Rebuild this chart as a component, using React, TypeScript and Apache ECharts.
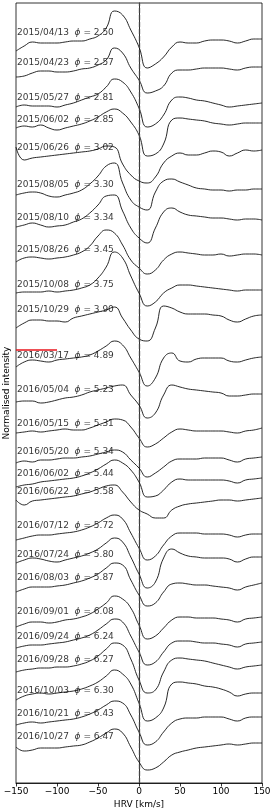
import React, { useEffect, useRef } from "react";
import * as echarts from "echarts";

// Heliocentric radial velocity grid (km/s)
const velocity = [-150, -140, -130, -120, -110, -100, -90, -80, -70, -60, -50, -40, -30, -20, -10, 0, 10, 20, 30, 40, 50, 60, 70, 80, 90, 100, 110, 120, 130, 140, 150];

const dates = [
  "2015/04/13", "2015/04/23", "2015/05/27", "2015/06/02", "2015/06/26", "2015/08/05", "2015/08/10", "2015/08/26",
  "2015/10/08", "2015/10/29", "2016/03/17", "2016/05/04", "2016/05/15", "2016/05/20", "2016/06/02", "2016/06/22",
  "2016/07/12", "2016/07/24", "2016/08/03", "2016/09/01", "2016/09/24", "2016/09/28", "2016/10/03", "2016/10/21", "2016/10/27",
];
const phases = ["2.50", "2.57", "2.81", "2.85", "3.02", "3.30", "3.34", "3.45", "3.75", "3.90", "4.89", "5.23", "5.31", "5.34", "5.44", "5.58", "5.72", "5.80", "5.87", "6.08", "6.24", "6.27", "6.30", "6.43", "6.47"];

// vertical shift applied to each normalised profile
const offsets = [6.43, 6.15, 5.83, 5.61, 5.31, 4.95, 4.65, 4.29, 3.95, 3.68, 3.25, 2.89, 2.53, 2.24, 2.03, 1.83, 1.5, 1.25, 0.98, 0.65, 0.4, 0.19, -0.07, -0.35, -0.62];
// level of each text annotation (same axis units)
const labelLevels = [7.51, 7.21, 6.86, 6.64, 6.36, 5.99, 5.66, 5.34, 4.99, 4.74, 4.28, 3.94, 3.6, 3.32, 3.1, 2.92, 2.58, 2.29, 2.06, 1.72, 1.47, 1.24, 0.93, 0.7, 0.47];

// normalised intensity profiles
const s01 = [0.89, 0.94, 0.98, 0.97, 0.97, 0.97, 0.98, 0.99, 0.99, 1.01, 1.04, 1.12, 1.29, 1.25, 1.10, 0.93, 0.72, 0.76, 0.83, 0.93, 0.98, 0.97, 0.97, 0.99, 1.00, 1.00, 0.99, 0.97, 0.99, 1.01, 1.01];
const s02 = [0.91, 0.92, 0.95, 0.97, 0.97, 0.96, 0.96, 0.97, 0.99, 1.00, 1.03, 1.08, 1.20, 1.15, 1.00, 0.88, 0.75, 0.77, 0.82, 0.95, 0.98, 0.98, 0.99, 1.00, 1.00, 1.00, 0.99, 0.98, 1.00, 1.01, 1.01];
const s03 = [0.93, 0.95, 0.94, 0.94, 0.94, 0.93, 0.95, 0.97, 1.00, 1.03, 1.06, 1.13, 1.21, 1.18, 1.08, 0.92, 0.73, 0.76, 0.85, 1.00, 1.03, 1.02, 1.00, 0.99, 0.97, 0.95, 0.93, 0.94, 0.95, 0.96, 0.97];
const s04 = [0.94, 0.96, 0.95, 0.97, 0.94, 0.92, 0.94, 0.96, 0.98, 1.01, 1.05, 1.10, 1.13, 1.09, 1.00, 0.87, 0.66, 0.68, 0.78, 1.02, 1.04, 1.03, 1.02, 1.01, 0.99, 0.98, 0.97, 0.98, 0.99, 0.99, 0.99];
const s05 = [1.05, 0.92, 0.94, 0.95, 0.96, 0.97, 0.98, 0.99, 1.00, 1.01, 1.03, 1.06, 1.05, 0.88, 0.77, 0.71, 0.69, 0.75, 0.89, 0.96, 0.99, 0.97, 0.97, 0.99, 1.01, 1.00, 0.96, 0.99, 1.02, 1.01, 1.02];
const s06 = [0.93, 0.95, 0.96, 0.95, 0.92, 0.91, 0.93, 0.95, 0.98, 1.04, 1.12, 1.22, 1.25, 1.05, 0.88, 0.81, 0.78, 0.96, 1.07, 1.09, 1.06, 1.03, 1.00, 0.99, 0.98, 0.98, 0.97, 0.98, 0.98, 0.99, 0.99];
const s07 = [0.91, 0.93, 0.95, 0.93, 0.91, 0.92, 0.93, 0.96, 0.99, 1.05, 1.13, 1.22, 1.23, 1.07, 0.90, 0.80, 0.75, 0.90, 1.06, 1.10, 1.06, 1.03, 1.02, 1.01, 1.00, 1.00, 0.99, 0.98, 0.99, 0.99, 0.98];
const s08 = [0.92, 0.96, 0.97, 0.96, 0.95, 0.96, 0.97, 0.99, 1.02, 1.08, 1.18, 1.24, 1.21, 1.09, 0.94, 0.86, 0.80, 0.84, 0.94, 1.00, 1.02, 1.01, 1.00, 0.99, 0.99, 1.00, 0.98, 0.99, 1.00, 1.00, 0.99];
const s09 = [0.95, 0.96, 0.96, 0.96, 0.97, 0.96, 0.97, 0.98, 1.00, 1.03, 1.10, 1.21, 1.36, 1.30, 1.12, 0.95, 0.82, 0.86, 0.95, 1.00, 1.03, 1.03, 1.02, 1.01, 1.00, 0.99, 0.98, 0.97, 0.98, 0.98, 0.98];
const s10 = [0.87, 0.92, 0.95, 0.95, 0.94, 0.94, 0.93, 0.97, 0.99, 1.01, 1.03, 1.05, 1.08, 0.97, 0.85, 0.76, 0.74, 0.87, 1.09, 1.07, 1.03, 1.01, 1.01, 1.01, 1.00, 0.99, 0.95, 0.93, 0.96, 0.99, 1.00];
const s11 = [0.91, 0.96, 0.98, 0.97, 0.96, 0.98, 0.99, 1.00, 1.01, 1.03, 1.07, 1.12, 1.17, 1.13, 1.00, 0.86, 0.72, 0.80, 1.00, 1.05, 0.97, 0.96, 0.99, 1.00, 1.00, 1.00, 0.97, 0.96, 0.98, 1.00, 1.01];
const s12 = [0.92, 0.93, 0.93, 0.91, 0.92, 0.94, 0.96, 0.97, 0.99, 1.02, 1.04, 1.06, 1.08, 1.09, 0.99, 0.89, 0.76, 0.81, 0.99, 1.09, 1.07, 1.05, 1.04, 1.03, 1.02, 1.01, 0.98, 0.98, 0.99, 1.00, 1.00];
const s13 = [0.97, 0.98, 0.99, 0.98, 0.99, 1.00, 1.01, 1.00, 1.00, 1.02, 1.05, 1.08, 1.11, 1.10, 1.03, 0.92, 0.83, 0.86, 0.92, 0.98, 1.01, 1.00, 0.99, 0.99, 0.99, 0.99, 0.98, 0.97, 0.99, 1.00, 1.02];
const s14 = [0.96, 0.98, 0.97, 0.99, 0.99, 1.00, 1.01, 1.01, 1.02, 1.03, 1.05, 1.07, 1.09, 1.07, 0.99, 0.91, 0.82, 0.86, 0.92, 0.98, 1.00, 1.00, 1.00, 1.01, 1.01, 1.01, 0.99, 0.97, 1.00, 1.01, 1.02];
const s15 = [0.93, 0.95, 0.96, 0.98, 0.99, 1.00, 1.01, 1.02, 1.04, 1.07, 1.11, 1.16, 1.20, 1.17, 1.10, 0.98, 0.83, 0.84, 0.90, 0.98, 1.01, 1.00, 1.00, 1.00, 1.00, 1.00, 0.99, 0.97, 1.00, 1.01, 1.02];
const s16 = [1.00, 0.95, 0.99, 1.00, 1.01, 1.02, 1.03, 1.04, 1.06, 1.08, 1.11, 1.14, 1.15, 1.08, 0.98, 0.90, 0.86, 0.82, 0.82, 0.90, 0.94, 0.96, 0.97, 0.98, 0.99, 1.00, 1.00, 0.99, 1.00, 1.01, 1.02];
const s17 = [0.93, 0.95, 0.97, 0.98, 0.98, 0.99, 1.00, 1.01, 1.03, 1.06, 1.10, 1.15, 1.18, 1.14, 1.00, 0.85, 0.73, 0.77, 0.88, 0.97, 1.00, 1.00, 1.00, 0.99, 0.99, 0.99, 0.98, 0.96, 0.98, 0.99, 0.99];
const s18 = [0.95, 0.98, 1.00, 0.99, 0.97, 0.96, 0.98, 1.00, 1.02, 1.05, 1.09, 1.15, 1.20, 1.16, 1.01, 0.84, 0.70, 0.76, 1.00, 1.09, 1.05, 1.02, 1.01, 1.00, 1.00, 1.00, 0.99, 0.96, 0.99, 1.01, 1.01];
const s19 = [0.93, 0.96, 0.98, 0.98, 0.98, 0.99, 1.00, 1.02, 1.04, 1.07, 1.11, 1.17, 1.22, 1.20, 1.05, 0.90, 0.79, 0.82, 0.93, 1.01, 1.02, 1.01, 1.00, 1.00, 0.99, 0.98, 0.97, 0.95, 0.98, 1.00, 1.02];
const s20 = [0.91, 0.94, 0.96, 0.96, 0.95, 0.96, 0.98, 0.99, 1.01, 1.04, 1.09, 1.15, 1.22, 1.19, 1.10, 0.93, 0.79, 0.82, 0.90, 0.98, 1.01, 1.01, 1.00, 1.00, 1.00, 0.99, 0.98, 0.96, 0.99, 1.00, 1.01];
const s21 = [0.95, 0.97, 0.98, 0.98, 0.99, 1.00, 1.01, 1.03, 1.05, 1.08, 1.13, 1.19, 1.24, 1.21, 1.07, 0.91, 0.78, 0.81, 0.91, 1.00, 1.02, 1.02, 1.01, 1.00, 1.00, 0.99, 0.98, 0.96, 0.99, 1.00, 1.01];
const s22 = [0.92, 0.94, 0.95, 0.96, 0.96, 0.97, 0.97, 0.98, 1.00, 1.03, 1.08, 1.15, 1.21, 1.19, 1.05, 0.84, 0.71, 0.74, 0.92, 1.04, 1.06, 1.05, 1.04, 1.03, 1.01, 0.99, 0.97, 0.95, 0.97, 0.98, 0.99];
const s23 = [0.90, 0.94, 0.96, 0.97, 0.96, 0.97, 0.98, 0.99, 1.01, 1.04, 1.08, 1.14, 1.20, 1.16, 1.06, 0.87, 0.69, 0.72, 0.82, 1.06, 1.08, 1.07, 1.06, 1.04, 1.03, 1.01, 0.98, 0.94, 0.96, 0.97, 0.97];
const s24 = [0.93, 0.95, 0.96, 0.95, 0.96, 0.97, 0.98, 0.99, 1.01, 1.04, 1.08, 1.13, 1.17, 1.15, 1.03, 0.86, 0.73, 0.76, 0.86, 0.95, 0.99, 1.00, 1.00, 1.01, 1.01, 1.01, 0.99, 0.97, 1.00, 1.01, 1.01];
const s25 = [0.98, 0.94, 0.95, 0.97, 0.97, 0.97, 0.98, 0.99, 1.00, 1.03, 1.07, 1.12, 1.16, 1.12, 0.98, 0.83, 0.75, 0.77, 0.83, 0.90, 0.93, 0.95, 0.97, 0.98, 0.99, 1.00, 1.01, 1.00, 1.01, 1.02, 1.02];

const spectra = [s01, s02, s03, s04, s05, s06, s07, s08, s09, s10, s11, s12, s13, s14, s15, s16, s17, s18, s19, s20, s21, s22, s23, s24, s25];

// short red marker on the left edge
const redMarkV = [-150, -100];
const redMarkLevel = 4.33;

const FONT = "DejaVu Sans";

export default function App() {
  const ref = useRef<HTMLDivElement>(null);

  useEffect(() => {
    if (!ref.current) return;
    const chart = echarts.init(ref.current, null, { renderer: "svg" });

    const lineSeries: any[] = spectra.map((f, i) => ({
      type: "line",
      data: velocity.map((v, j) => [v, +(f[j] + offsets[i]).toFixed(3)]),
      smooth: 0.5,
      symbol: "none",
      silent: true,
      lineStyle: { color: "#111", width: 0.9 },
      z: 3,
    }));

    const labelSeries = {
      type: "scatter",
      symbolSize: 0,
      silent: true,
      clip: false,
      z: 4,
      data: labelLevels.map((lv) => [-150, lv]),
      label: {
        show: true,
        position: [1, 0],
        align: "left",
        verticalAlign: "middle",
        formatter: (p: any) => `{d|${dates[p.dataIndex]}  }{p|ϕ}{d| = ${phases[p.dataIndex]}}`,
        rich: {
          d: { fontSize: 9, fontFamily: FONT, color: "#000" },
          p: { fontSize: 9, fontFamily: FONT, fontStyle: "italic", color: "#000" },
        },
      },
    };

    const redSeries = {
      type: "line",
      data: redMarkV.map((v) => [v, redMarkLevel]),
      symbol: "none",
      silent: true,
      lineStyle: { color: "#e8141c", width: 1.5 },
      z: 5,
      markLine: {
        silent: true,
        symbol: ["none", "none"],
        label: { show: false },
        lineStyle: { type: [5, 2], color: "#444", width: 1.3 },
        data: [{ xAxis: 0 }],
      },
    };

    chart.setOption({
      animation: false,
      textStyle: { fontFamily: FONT },
      grid: {
        left: 16, right: 12, top: 3, bottom: 26,
        show: true, borderColor: "#000", borderWidth: 0.8,
        containLabel: false,
        outerBoundsMode: "none",
      },
      xAxis: {
        type: "value",
        min: -150,
        max: 150,
        interval: 50,
        name: "HRV [km/s]",
        nameLocation: "middle",
        nameGap: 14,
        nameTextStyle: { fontSize: 9, fontFamily: FONT, color: "#000" },
        axisLine: { show: true, lineStyle: { color: "#000", width: 0.8 } },
        axisTick: { show: true, length: 3.5, lineStyle: { color: "#000", width: 0.8 } },
        axisLabel: {
          fontSize: 9,
          fontFamily: FONT,
          color: "#000",
          margin: 3,
          formatter: (v: number) => String(v).replace("-", "\u2212"),
        },
        splitLine: { show: false },
      },
      yAxis: {
        type: "value",
        min: 0,
        max: 7.8,
        name: "Normalised intensity",
        nameLocation: "middle",
        nameGap: 6,
        nameTextStyle: { fontSize: 9, fontFamily: FONT, color: "#000" },
        axisLine: { show: true, lineStyle: { color: "#000", width: 0.8 } },
        axisTick: { show: false },
        axisLabel: { show: false },
        splitLine: { show: false },
      },
      series: [...lineSeries, redSeries, labelSeries],
    });

    return () => chart.dispose();
  }, []);

  return <div ref={ref} style={{ position: "fixed", left: 0, top: 0, width: 274, height: 809 }} />;
}
